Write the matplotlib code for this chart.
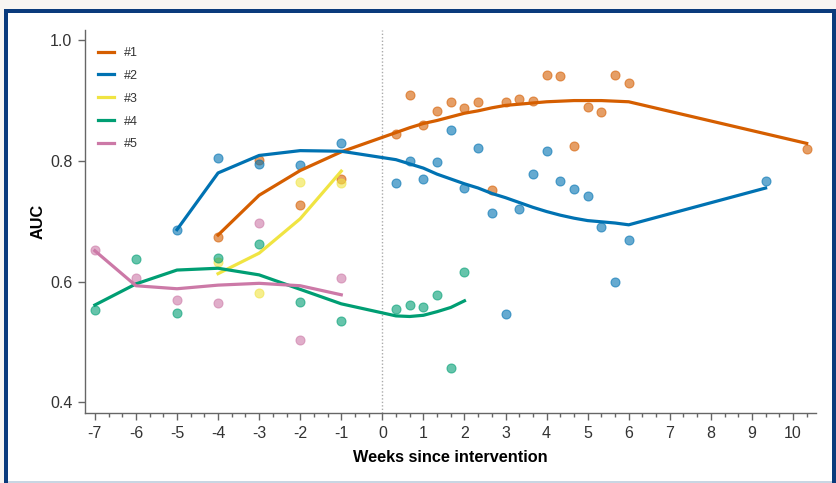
import matplotlib
matplotlib.use("Agg")
import matplotlib.pyplot as plt
from matplotlib.patches import Rectangle
import numpy as np

plt.rcParams['font.family'] = ['Liberation Sans', 'DejaVu Sans']
plt.rcParams['axes.unicode_minus'] = False

names = ["#1", "#2", "#3", "#4", "#5"]
colors = ["#d55e00", "#0072b2", "#f0e442", "#009e73", "#cc79a7"]

# Observed AUC values (x = weeks since intervention)
x1 = [-4, -3, -2, -1, 0.333, 0.667, 1.0, 1.333, 1.667, 2.0, 2.333, 2.667, 3.0, 3.333,
      3.667, 4.0, 4.333, 4.667, 5.0, 5.333, 5.667, 6.0, 10.333]
y1 = [0.674, 0.801, 0.727, 0.770, 0.845, 0.910, 0.860, 0.883, 0.897, 0.888, 0.897, 0.751,
      0.897, 0.903, 0.899, 0.942, 0.941, 0.824, 0.889, 0.881, 0.942, 0.929, 0.819]
f1 = [0.677, 0.743, 0.784, 0.815, 0.847, 0.855, 0.862, 0.867, 0.873, 0.879, 0.883, 0.888,
      0.892, 0.894, 0.896, 0.898, 0.899, 0.900, 0.900, 0.900, 0.899, 0.898, 0.829]

x2 = [-5, -4, -3, -2, -1, 0.333, 0.667, 1.0, 1.333, 1.667, 2.0, 2.333, 2.667, 3.0, 3.333,
      3.667, 4.0, 4.333, 4.667, 5.0, 5.333, 5.667, 6.0, 9.333]
y2 = [0.686, 0.805, 0.795, 0.794, 0.829, 0.763, 0.799, 0.770, 0.798, 0.852, 0.755, 0.821,
      0.714, 0.546, 0.720, 0.779, 0.817, 0.766, 0.754, 0.741, 0.690, 0.599, 0.669, 0.767]
f2 = [0.686, 0.780, 0.809, 0.817, 0.816, 0.802, 0.795, 0.788, 0.778, 0.770, 0.762, 0.755,
      0.746, 0.739, 0.731, 0.723, 0.716, 0.710, 0.705, 0.701, 0.699, 0.697, 0.694, 0.755]

x3 = [-4, -3, -2, -1]
y3 = [0.633, 0.581, 0.765, 0.763]
f3 = [0.613, 0.647, 0.704, 0.783]

x4 = [-7, -6, -5, -4, -3, -2, -1, 0.333, 0.667, 1.0, 1.333, 1.667, 2.0]
y4 = [0.552, 0.637, 0.548, 0.639, 0.662, 0.566, 0.534, 0.554, 0.561, 0.557, 0.577, 0.457, 0.616]
f4 = [0.561, 0.596, 0.619, 0.622, 0.611, 0.587, 0.563, 0.543, 0.542, 0.544, 0.550, 0.557, 0.568]

x5 = [-7, -6, -5, -4, -3, -2, -1]
y5 = [0.653, 0.606, 0.569, 0.564, 0.697, 0.503, 0.605]
f5 = [0.651, 0.593, 0.588, 0.594, 0.597, 0.593, 0.578]

xticks = list(range(-7, 11))
yticks = [0.4, 0.6, 0.8, 1.0]

W, H = 837, 483
fig = plt.figure(figsize=(W / 100, H / 100), dpi=100)
fig.patch.set_facecolor("#f8f5f2")

def px(x0, y0, w, h):
    return (x0 / W, 1 - (y0 + h) / H), w / W, h / H

# white panel with dark blue border
(a, b), w, h = px(4, 9, 832, 480)
fig.patches.append(Rectangle((a, b), w, h, transform=fig.transFigure,
                             facecolor="#0b3b7c", edgecolor="none", zorder=-3))
(a, b), w, h = px(8, 13, 824, 476)
fig.patches.append(Rectangle((a, b), w, h, transform=fig.transFigure,
                             facecolor="white", edgecolor="none", zorder=-2))
(a, b), w, h = px(8, 481, 824, 2)
fig.patches.append(Rectangle((a, b), w, h, transform=fig.transFigure,
                             facecolor="#c9d6e3", edgecolor="none", zorder=-1))

ax = fig.add_axes([85 / W, 1 - 413 / H, (816 - 85) / W, (413 - 30) / H])
ax.set_facecolor("none")

xs = [x1, x2, x3, x4, x5]
ys = [y1, y2, y3, y4, y5]
fs = [f1, f2, f3, f4, f5]

for xx, yy, c in zip(xs, ys, colors):
    ax.scatter(xx, yy, s=42, color=c, alpha=0.6, edgecolors=c, linewidths=0.8, zorder=2)

for xx, ff, c, n in zip(xs, fs, colors, names):
    ax.plot(xx, ff, color=c, lw=2.3, zorder=3, label=n)

ax.axvline(0, color="#aaaaaa", lw=1, ls=(0, (1, 1.5)), zorder=1)

ax.set_xlim(-7.24, 10.56)
ax.set_ylim(0.382, 1.017)
ax.set_xticks(xticks)
ax.set_xticklabels([str(t) for t in xticks])
ax.set_xticks(np.arange(-7, 10.5, 1 / 3), minor=True)
ax.set_yticks(yticks)
ax.set_yticklabels(["0.4", "0.6", "0.8", "1.0"])

for s in ["top", "right"]:
    ax.spines[s].set_visible(False)
for s in ["left", "bottom"]:
    ax.spines[s].set_color("#666666")
    ax.spines[s].set_linewidth(1.0)

ax.tick_params(axis="both", which="major", length=5, width=1, color="#666666",
               labelsize=11.5, labelcolor="#333333", pad=4)
ax.tick_params(axis="x", which="minor", length=3, width=1, color="#666666")

ax.set_xlabel("Weeks since intervention", fontsize=11.7, fontweight="bold", labelpad=6.5)
ax.set_ylabel("AUC", fontsize=11.7, fontweight="bold", labelpad=3)

leg = ax.legend(loc="upper left", bbox_to_anchor=(0.004, 0.982), frameon=False,
                fontsize=9, handlelength=1.3, handletextpad=0.8, labelspacing=0.87,
                borderaxespad=0.4)
for t in leg.get_texts():
    t.set_color("#333333")

fig.savefig("out.png", dpi=100, facecolor=fig.get_facecolor())
